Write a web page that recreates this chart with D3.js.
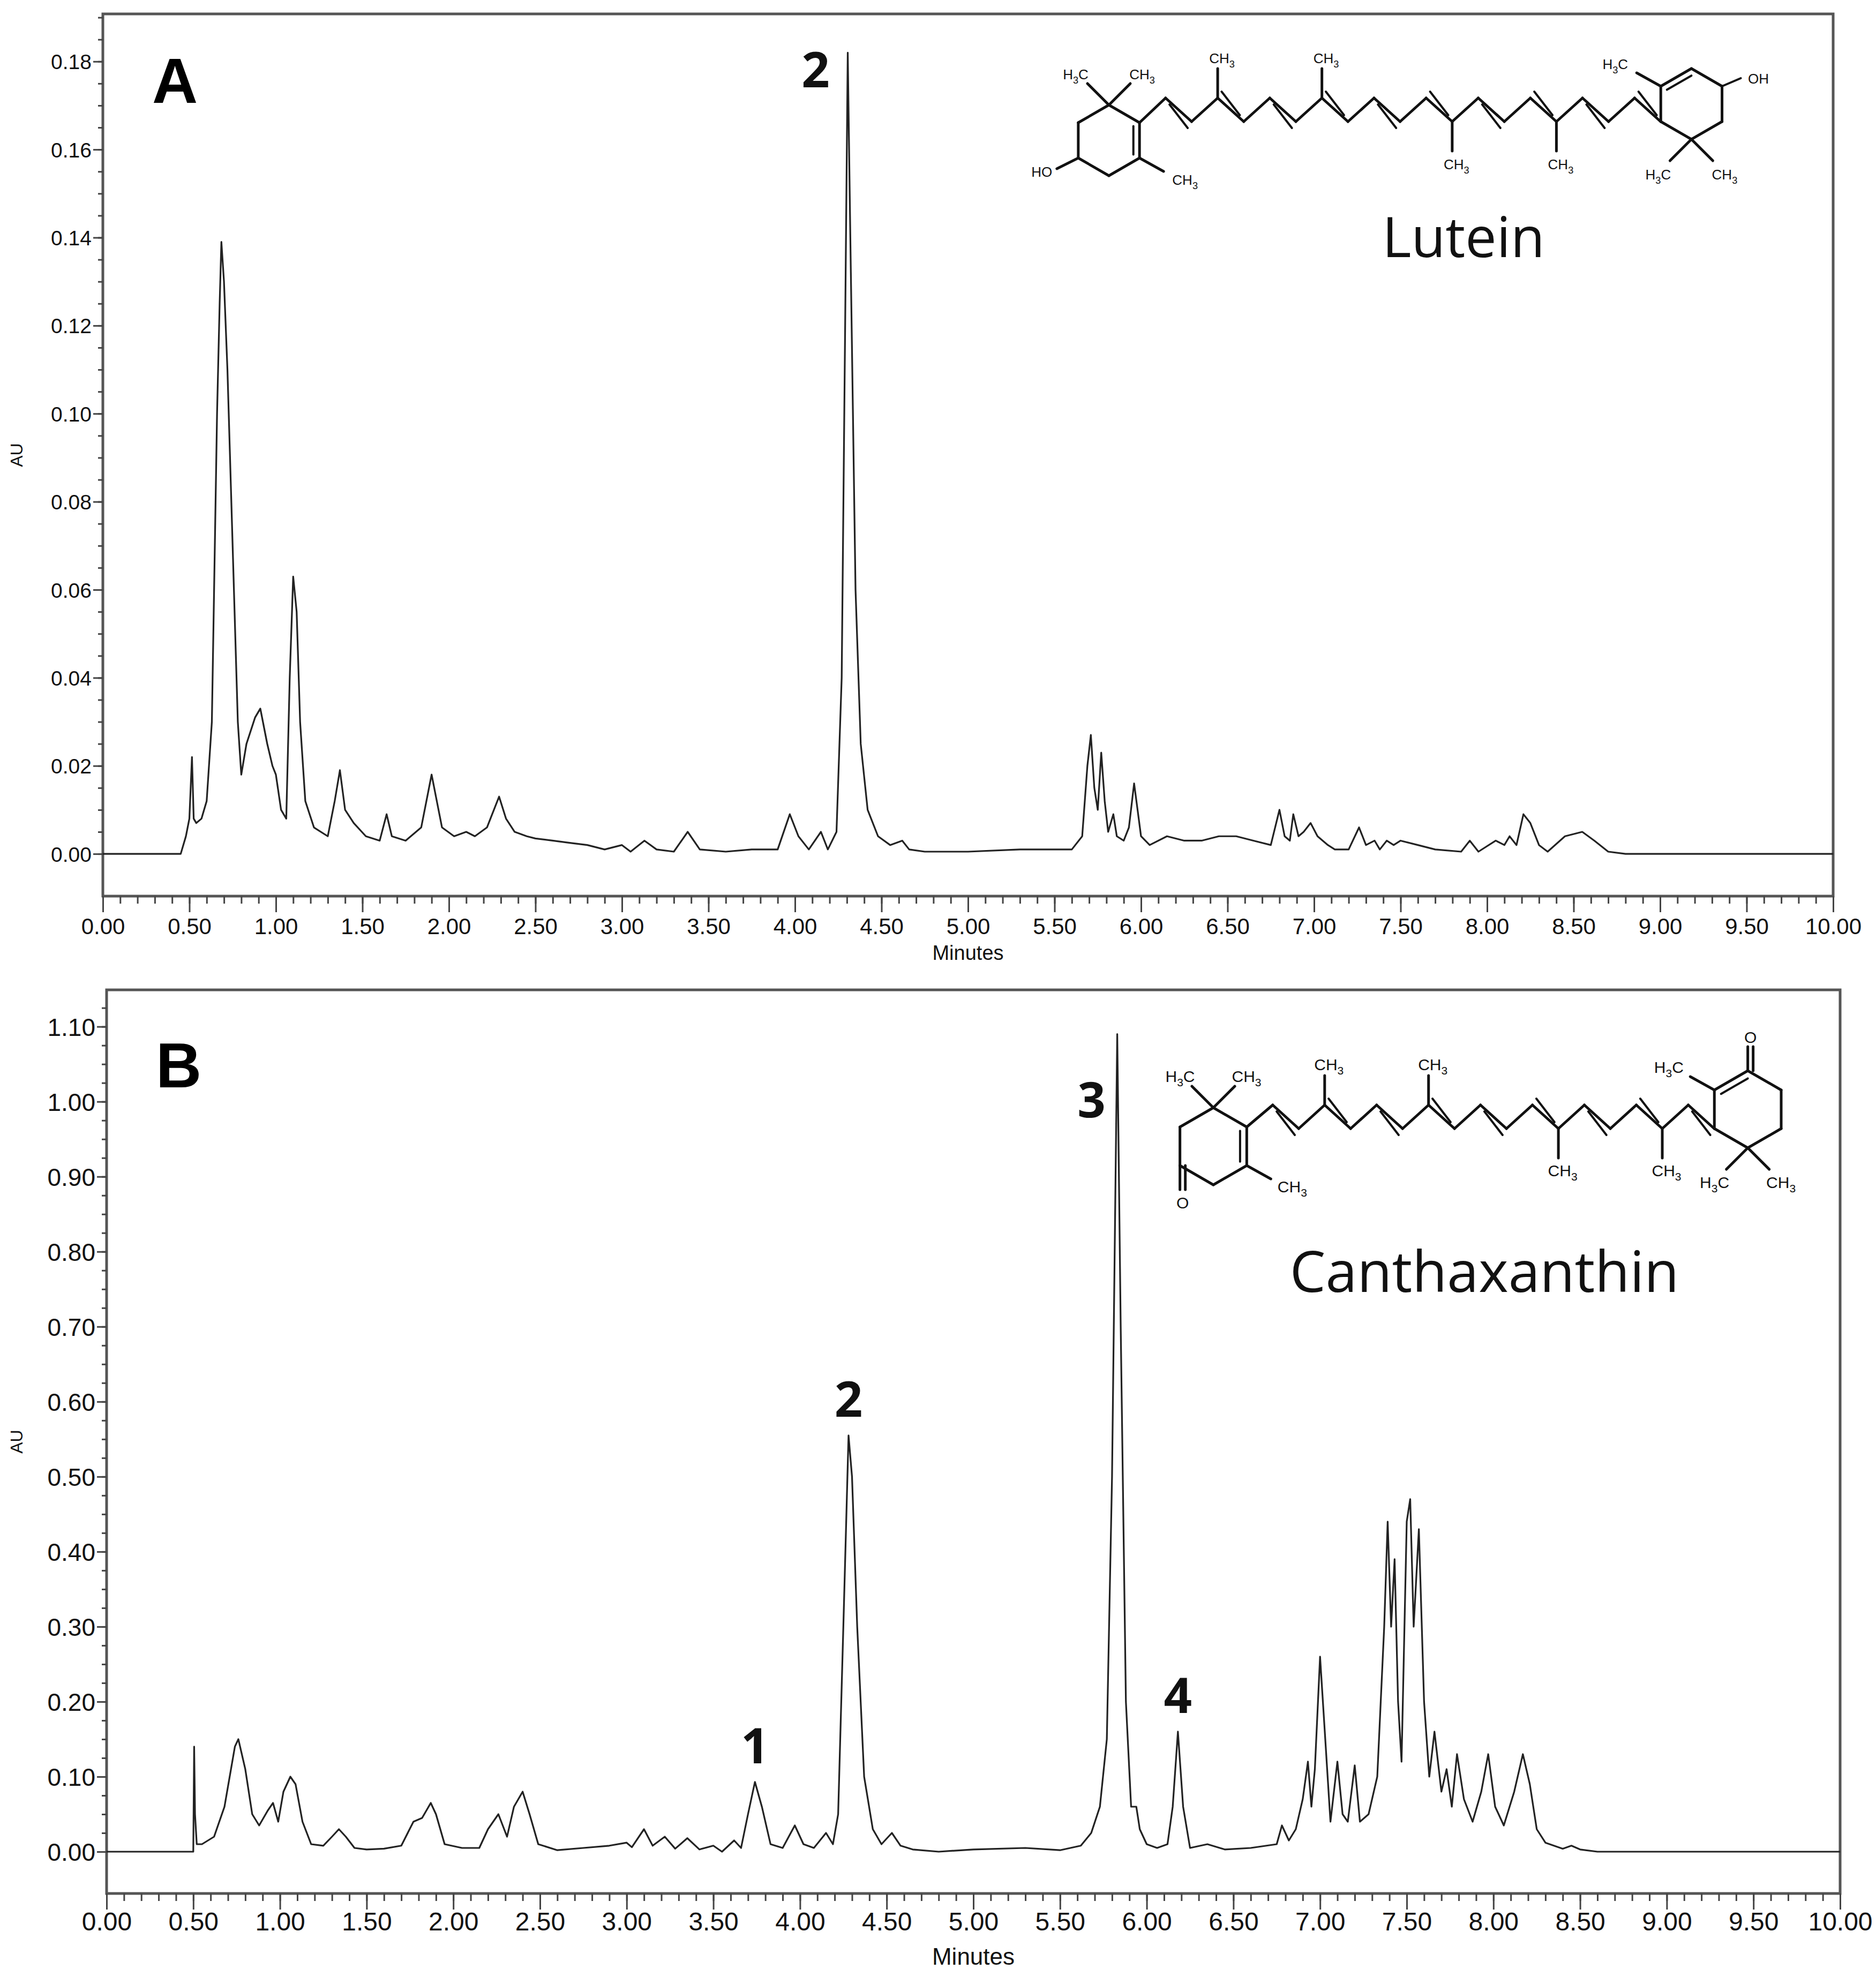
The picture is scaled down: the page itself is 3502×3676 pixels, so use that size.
<!DOCTYPE html>
<html><head><meta charset="utf-8">
<script src="https://cdn.jsdelivr.net/npm/d3@7"></script>
<style>body{margin:0;background:#fff}</style>
</head><body>
<script>
// ---------- data ----------
const timeA = [0,0.45,0.48,0.50,0.515,0.525,0.54,0.57,0.60,0.63,0.66,0.675,0.685,0.70,0.72,0.75,0.78,0.80,0.83,0.88,0.91,0.95,0.98,1.00,1.03,1.06,1.08,1.10,1.12,1.14,1.17,1.22,1.30,1.34,1.37,1.40,1.45,1.52,1.60,1.64,1.67,1.75,1.84,1.90,1.93,1.96,2.03,2.10,2.15,2.22,2.29,2.33,2.38,2.45,2.50,2.60,2.70,2.80,2.90,3.00,3.05,3.13,3.20,3.30,3.38,3.45,3.60,3.75,3.90,3.97,4.02,4.08,4.15,4.19,4.24,4.27,4.29,4.305,4.32,4.35,4.38,4.42,4.48,4.55,4.62,4.66,4.75,5.00,5.30,5.60,5.66,5.69,5.71,5.73,5.75,5.77,5.79,5.81,5.84,5.86,5.90,5.93,5.96,5.98,6.00,6.05,6.15,6.25,6.35,6.45,6.55,6.65,6.75,6.80,6.83,6.86,6.88,6.91,6.94,6.98,7.02,7.08,7.12,7.20,7.26,7.30,7.35,7.38,7.42,7.46,7.50,7.60,7.70,7.85,7.90,7.95,8.05,8.10,8.13,8.17,8.21,8.25,8.30,8.35,8.45,8.55,8.62,8.70,8.80,10.0];
const auA   = [0,0,0.004,0.008,0.022,0.008,0.007,0.008,0.012,0.03,0.10,0.125,0.139,0.13,0.11,0.07,0.03,0.018,0.025,0.031,0.033,0.025,0.02,0.018,0.01,0.008,0.04,0.063,0.055,0.03,0.012,0.006,0.004,0.012,0.019,0.01,0.007,0.004,0.003,0.009,0.004,0.003,0.006,0.018,0.012,0.006,0.004,0.005,0.004,0.006,0.013,0.008,0.005,0.004,0.0035,0.003,0.0025,0.002,0.001,0.002,0.0005,0.003,0.001,0.0005,0.005,0.001,0.0005,0.001,0.001,0.009,0.004,0.001,0.005,0.001,0.005,0.04,0.12,0.182,0.14,0.06,0.025,0.01,0.004,0.002,0.003,0.001,0.0005,0.0005,0.001,0.001,0.004,0.02,0.027,0.015,0.01,0.023,0.012,0.005,0.009,0.004,0.003,0.006,0.016,0.01,0.004,0.002,0.004,0.003,0.003,0.004,0.004,0.003,0.002,0.01,0.004,0.003,0.009,0.004,0.005,0.007,0.004,0.002,0.001,0.001,0.006,0.002,0.003,0.001,0.003,0.002,0.003,0.002,0.001,0.0005,0.003,0.0005,0.003,0.002,0.004,0.002,0.009,0.007,0.002,0.0005,0.004,0.005,0.003,0.0005,0,0];

const timeB = [0,0.50,0.505,0.51,0.52,0.55,0.62,0.68,0.74,0.76,0.80,0.84,0.88,0.93,0.96,0.99,1.02,1.06,1.09,1.13,1.18,1.25,1.30,1.34,1.38,1.43,1.50,1.60,1.70,1.77,1.82,1.87,1.90,1.95,2.05,2.15,2.20,2.26,2.31,2.35,2.40,2.44,2.49,2.60,2.75,2.90,3.00,3.03,3.10,3.15,3.22,3.28,3.35,3.42,3.50,3.55,3.62,3.66,3.70,3.74,3.78,3.83,3.90,3.97,4.02,4.08,4.15,4.19,4.22,4.25,4.28,4.30,4.33,4.37,4.42,4.47,4.53,4.58,4.65,4.80,5.00,5.30,5.50,5.62,5.68,5.73,5.77,5.80,5.83,5.85,5.88,5.91,5.94,5.96,6.00,6.06,6.12,6.15,6.18,6.21,6.25,6.35,6.45,6.60,6.75,6.78,6.82,6.86,6.90,6.93,6.95,6.97,7.00,7.03,7.06,7.10,7.13,7.16,7.20,7.23,7.28,7.33,7.37,7.39,7.41,7.43,7.45,7.47,7.50,7.52,7.54,7.57,7.60,7.63,7.66,7.70,7.73,7.76,7.79,7.83,7.88,7.93,7.97,8.01,8.06,8.12,8.17,8.21,8.25,8.30,8.40,8.45,8.50,8.60,10.0];
const auB   = [0,0,0.14,0.05,0.01,0.01,0.02,0.06,0.14,0.15,0.11,0.05,0.035,0.055,0.065,0.04,0.08,0.10,0.09,0.04,0.01,0.008,0.02,0.03,0.02,0.005,0.003,0.004,0.008,0.04,0.045,0.065,0.05,0.01,0.005,0.005,0.03,0.05,0.02,0.06,0.08,0.05,0.01,0.002,0.005,0.008,0.012,0.006,0.03,0.008,0.02,0.004,0.018,0.003,0.008,0.0,0.015,0.005,0.05,0.093,0.06,0.01,0.005,0.035,0.01,0.005,0.025,0.01,0.05,0.30,0.555,0.50,0.30,0.10,0.03,0.01,0.025,0.008,0.003,0.0,0.003,0.005,0.002,0.008,0.025,0.06,0.15,0.50,1.09,0.70,0.20,0.06,0.06,0.03,0.01,0.005,0.01,0.06,0.16,0.06,0.005,0.01,0.003,0.005,0.01,0.035,0.015,0.03,0.07,0.12,0.06,0.11,0.26,0.15,0.04,0.12,0.05,0.04,0.115,0.04,0.05,0.10,0.30,0.44,0.30,0.39,0.20,0.12,0.44,0.47,0.30,0.43,0.20,0.10,0.16,0.08,0.11,0.06,0.13,0.07,0.04,0.08,0.13,0.06,0.035,0.08,0.13,0.09,0.03,0.012,0.004,0.008,0.003,0,0];

const xTicks = [0,0.5,1,1.5,2,2.5,3,3.5,4,4.5,5,5.5,6,6.5,7,7.5,8,8.5,9,9.5,10];
const yTicksA = [0,0.02,0.04,0.06,0.08,0.10,0.12,0.14,0.16,0.18];
const yTicksB = [0,0.1,0.2,0.3,0.4,0.5,0.6,0.7,0.8,0.9,1.0,1.1];
const peaksA = [{t:4.305,v:0.182,label:"2"}];
const peaksB = [{t:3.74,v:0.093,label:"1"},{t:4.28,v:0.555,label:"2"},{t:5.83,v:1.09,label:"3"},{t:6.18,v:0.16,label:"4"}];

// ---------- drawing ----------
const W=3502,H=3676;
const svg=d3.select("body").append("svg").attr("width",W).attr("height",H);
const NARROW="'Liberation Sans Narrow','Arial Narrow','Liberation Sans',sans-serif";

function panel(o){
  const g=svg.append("g");
  const x=d3.scaleLinear().domain([0,10]).range([o.left,o.right]);
  const y=d3.scaleLinear().domain(o.ydom).range([o.bottom,o.top]);
  g.append("rect").attr("x",o.left).attr("y",o.top).attr("width",o.right-o.left).attr("height",o.bottom-o.top)
   .attr("fill","none").attr("stroke","#555").attr("stroke-width",5);
  const xa=g.append("g").attr("transform",`translate(0,${o.bottom})`);
  xa.call(d3.axisBottom(x).tickValues(d3.range(0,101).map(i=>i/10)).tickSize(14).tickFormat(""));
  xa.append("g").call(d3.axisBottom(x).tickValues(xTicks).tickSize(30).tickFormat(d3.format(".2f")))
    .selectAll("text").attr("font-family",NARROW).attr("font-size",o.xfs).attr("fill","#111").attr("dy",o.xdy);
  xa.selectAll(".domain").remove();
  xa.selectAll("line").attr("stroke","#444").attr("stroke-width",3);
  const ya=g.append("g").attr("transform",`translate(${o.left},0)`);
  ya.call(d3.axisLeft(y).tickValues(o.minor).tickSize(9).tickFormat(""));
  ya.append("g").call(d3.axisLeft(y).tickValues(o.yt).tickSize(18).tickFormat(d3.format(".2f")))
    .selectAll("text").attr("font-family",o.yff).attr("font-size",o.yfs).attr("fill","#111").attr("dy","0.36em");
  ya.selectAll(".domain").remove();
  ya.selectAll("line").attr("stroke","#444").attr("stroke-width",3);
  g.append("path").datum(o.t.map((t,i)=>[t,o.v[i]]))
   .attr("d",d3.line().x(d=>x(d[0])).y(d=>y(d[1])))
   .attr("fill","none").attr("stroke","#222").attr("stroke-width",3.2).attr("stroke-linejoin","round");
  g.append("text").attr("x",(o.left+o.right)/2).attr("y",o.minY).attr("text-anchor","middle")
   .attr("font-family",NARROW).attr("font-size",o.mfs).attr("fill","#111").text("Minutes");
  g.append("text").attr("transform",`translate(${o.auX},${(o.top+o.bottom)/2}) rotate(-90)`).attr("text-anchor","middle")
   .attr("font-family",NARROW).attr("font-size",32).attr("fill","#111").text("AU");
  g.append("text").attr("x",o.left+o.panelDx).attr("y",o.panelY).attr("font-family","'Liberation Sans',Arial,sans-serif")
   .attr("font-weight","bold").attr("font-size",118).text(o.name);
  o.peaks.forEach((p,i)=>{
    const off=o.off[i];
    g.append("text").attr("x",x(p.t)+off[0]).attr("y",y(p.v)+off[1]).attr("text-anchor","middle")
     .attr("font-family","'Open Sans',sans-serif").attr("font-weight","bold").attr("font-size",92).attr("fill","#111").text(p.label);
  });
  return g;
}

panel({left:192,right:3422,top:26,bottom:1673,ydom:[-0.0096,0.1908],t:timeA,v:auA,yt:yTicksA,
  minor:d3.range(0,39).map(i=>i*0.005),xfs:42,xdy:"0.9em",mfs:38,yfs:39,yff:"'Liberation Sans',Arial,sans-serif",
  minY:1792,auX:42,name:"A",panelDx:92,panelY:192,peaks:peaksA,off:[[-60,65]]});
panel({left:199,right:3435,top:1848,bottom:3535,ydom:[-0.0557,1.149],t:timeB,v:auB,yt:yTicksB,
  minor:d3.range(0,46).map(i=>i*0.025),xfs:48,xdy:"0.75em",mfs:44,yfs:46,yff:NARROW,
  minY:3668,auX:42,name:"B",panelDx:92,panelY:2030,peaks:peaksB,off:[[0,-35],[0,-35],[-48,155],[0,-35]]});

// ---------- molecule sketches (decoration) ----------
function molecule(g,o){
  const L=(a,b,w)=>g.append("line").attr("x1",a[0]).attr("y1",a[1]).attr("x2",b[0]).attr("y2",b[1]).attr("stroke","#111").attr("stroke-width",w||5).attr("stroke-linecap","round");
  const T=(s,x,y)=>{const t=g.append("text").attr("x",x).attr("y",y).attr("font-family","'Liberation Sans',Arial,sans-serif").attr("font-size",o.fs).attr("text-anchor","middle").attr("fill","#111");
    let sub=false; s.split(/(\d)/).forEach(p=>{ if(!p)return; const d=/\d/.test(p); t.append("tspan").attr("font-size",d?o.fs*0.7:o.fs).attr("dy",d?8:(sub?-8:0)).text(p); sub=d;}); };
  const hex=(cx,cy,r)=>d3.range(6).map(i=>{const a=(i*60-90)*Math.PI/180;return [cx+r*Math.cos(a),cy+r*Math.sin(a)];});
  const r=o.r;
  const A=hex(o.lx,o.ly,r); for(let i=0;i<6;i++) L(A[i],A[(i+1)%6]);
  const c1=[o.lx,o.ly]; const ins=(p)=>[p[0]+(c1[0]-p[0])*0.2,p[1]+(c1[1]-p[1])*0.2];
  L(ins(A[1]),ins(A[2]),4);
  let p=A[1]; const pts=[p]; const n=o.n, sx=(o.ex-p[0])/n;
  for(let i=1;i<=n;i++){ pts.push([p[0]+sx*i, (i%2? o.cy-o.amp : o.cy+o.amp)]); }
  for(let i=0;i<n;i++){ L(pts[i],pts[i+1]); if(i%2==1){ const a=pts[i],b=pts[i+1]; const d=(i%4==1?12:-12); L([a[0]+sx*0.15,a[1]+d],[b[0]-sx*0.15,b[1]+d],4);} }
  o.methyl.forEach(i=>{ const q=pts[i]; const up=q[1]<o.cy; const e=[q[0],q[1]+(up?-55:55)]; L(q,e); T("CH3",q[0]+8,up?e[1]-10:e[1]+34); });
  const last=pts[n];
  const B2=hex(last[0]+r*0.87, last[1]-r*0.5, r);
  for(let i=0;i<6;i++) L(B2[i],B2[(i+1)%6]);
  const c2=[last[0]+r*0.87,last[1]-r*0.5]; const ins2=(p)=>[p[0]+(c2[0]-p[0])*0.2,p[1]+(c2[1]-p[1])*0.2];
  L(ins2(B2[5]),ins2(B2[0]),4);
  L(A[0],[A[0][0]-40,A[0][1]-40]); L(A[0],[A[0][0]+40,A[0][1]-40]);
  T("H3C",A[0][0]-62,A[0][1]-48); T("CH3",A[0][0]+62,A[0][1]-48);
  L(A[2],[A[2][0]+45,A[2][1]+25]); T("CH3",A[2][0]+85,A[2][1]+50);
  L(B2[3],[B2[3][0]-40,B2[3][1]+40]); L(B2[3],[B2[3][0]+40,B2[3][1]+40]);
  T("H3C",B2[3][0]-62,B2[3][1]+75); T("CH3",B2[3][0]+62,B2[3][1]+75);
  L(B2[5],[B2[5][0]-45,B2[5][1]-25]); T("H3C",B2[5][0]-85,B2[5][1]-32);
  if(o.keto){
    L(A[4],[A[4][0],A[4][1]+45]); L([A[4][0]+10,A[4][1]],[A[4][0]+10,A[4][1]+45]); T("O",A[4][0]+5,A[4][1]+80);
    L(B2[0],[B2[0][0],B2[0][1]-45]); L([B2[0][0]+10,B2[0][1]],[B2[0][0]+10,B2[0][1]-45]); T("O",B2[0][0]+5,B2[0][1]-52);
  } else {
    L(A[4],[A[4][0]-40,A[4][1]+20]); T("HO",A[4][0]-68,A[4][1]+35);
    L(B2[1],[B2[1][0]+35,B2[1][1]-15],4); T("OH",B2[1][0]+68,B2[1][1]-5);
  }
}
const mg=svg.append("g");
molecule(mg,{lx:2070,ly:262,r:66,ex:3100,cy:205,amp:22,n:20,methyl:[3,7,12,16],fs:26,keto:false});
molecule(mg,{lx:2265,ly:2140,r:72,ex:3200,cy:2085,amp:22,n:18,methyl:[3,7,12,16],fs:30,keto:true});

svg.append("text").attr("x",2732).attr("y",480).attr("text-anchor","middle").attr("font-family","'Open Sans',sans-serif").attr("font-size",104).attr("fill","#111").text("Lutein");
svg.append("text").attr("x",2771).attr("y",2412).attr("text-anchor","middle").attr("font-family","'Open Sans',sans-serif").attr("font-size",106).attr("fill","#111").text("Canthaxanthin");
</script>
</body></html>
